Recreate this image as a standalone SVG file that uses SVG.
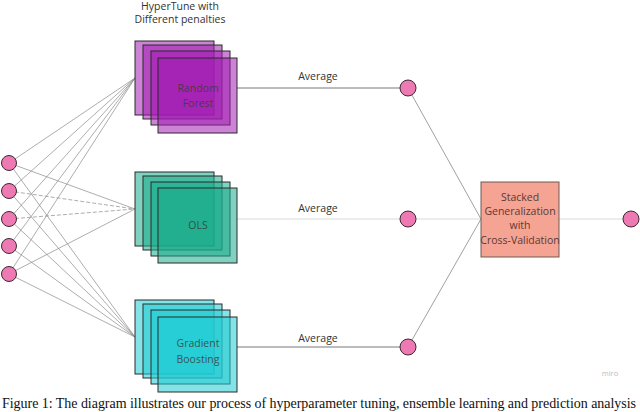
<svg xmlns="http://www.w3.org/2000/svg" width="640" height="412" viewBox="0 0 640 412">
<defs>
<style>
.lbl{font-family:"Open Sans","Noto Sans",sans-serif;font-size:10.5px;fill:#333;text-anchor:middle}
.in{font-family:"Open Sans","Noto Sans",sans-serif;font-size:10.5px;fill:#3a3a3a;fill-opacity:0.85;text-anchor:middle}
.c{stroke:#8a8a8a;stroke-width:0.7;fill:none}
.d{stroke-dasharray:4 2}
.dot{fill:#ee7ab4;stroke:#3d2b33;stroke-width:1}
.rf{fill:#a21cb3;fill-opacity:0.55;stroke:#2a2a2a;stroke-width:1}
.ols{fill:#17ab8a;fill-opacity:0.55;stroke:#2a2a2a;stroke-width:1}
.gb{fill:#1fccd3;fill-opacity:0.55;stroke:#2a2a2a;stroke-width:1}
</style>
</defs>
<rect width="640" height="412" fill="#ffffff"/>
<g id="connectors">
  <line class="c" x1="9" y1="163" x2="135" y2="78"/>
  <line class="c" x1="9" y1="191" x2="135" y2="78"/>
  <line class="c" x1="9" y1="219" x2="135" y2="78"/>
  <line class="c" x1="9" y1="246" x2="135" y2="78"/>
  <line class="c" x1="9" y1="274" x2="135" y2="78"/>
  <line class="c" x1="9" y1="163" x2="135" y2="209"/>
  <line class="c d" x1="9" y1="191" x2="135" y2="209"/>
  <line class="c d" x1="9" y1="219" x2="135" y2="209"/>
  <line class="c" x1="9" y1="274" x2="135" y2="209"/>
  <line class="c" x1="9" y1="163" x2="135" y2="337"/>
  <line class="c" x1="9" y1="191" x2="135" y2="337"/>
  <line class="c" x1="9" y1="219" x2="135" y2="337"/>
  <line class="c" x1="9" y1="246" x2="135" y2="337"/>
  <line class="c" x1="9" y1="274" x2="135" y2="337"/>
  <line stroke="#555" stroke-width="0.8" x1="237" y1="88" x2="408" y2="88"/>
  <line stroke="#d0d0d0" stroke-width="0.8" x1="237" y1="219" x2="408" y2="219"/>
  <line stroke="#555" stroke-width="0.8" x1="237" y1="347" x2="408" y2="347"/>
  <line stroke="#888" stroke-width="0.8" x1="408" y1="88" x2="481" y2="219"/>
  <line stroke="#d0d0d0" stroke-width="0.8" x1="408" y1="219" x2="481" y2="219"/>
  <line stroke="#888" stroke-width="0.8" x1="408" y1="347" x2="481" y2="219"/>
  <line stroke="#d0d0d0" stroke-width="0.8" x1="559" y1="219" x2="631" y2="219"/>
  <text class="lbl" x="318" y="80">Average</text>
  <text class="lbl" x="318" y="212">Average</text>
  <text class="lbl" x="318" y="342">Average</text>
</g>
<g id="inputs">
  <circle class="dot" cx="9" cy="163" r="7.5"/>
  <circle class="dot" cx="9" cy="191" r="7.5"/>
  <circle class="dot" cx="9" cy="219" r="7.5"/>
  <circle class="dot" cx="9" cy="246" r="7.5"/>
  <circle class="dot" cx="9" cy="274" r="7.5"/>
</g>
<g id="title">
  <text class="lbl" x="180" y="9.5">HyperTune with</text>
  <text class="lbl" x="180" y="23">Different penalties</text>
</g>
<g id="random-forest">
  <rect class="rf" x="135" y="41" width="79" height="74"/>
  <rect class="rf" x="143" y="45" width="79" height="74"/>
  <rect class="rf" x="151" y="51" width="79" height="74"/>
  <rect class="rf" x="158" y="58" width="79" height="75"/>
  <text class="in" x="198" y="92">Random</text>
  <text class="in" x="198" y="107">Forest</text>
</g>
<g id="ols">
  <rect class="ols" x="135" y="172" width="79" height="74"/>
  <rect class="ols" x="143" y="176" width="79" height="74"/>
  <rect class="ols" x="151" y="182" width="79" height="74"/>
  <rect class="ols" x="158" y="188" width="79" height="75"/>
  <text class="in" x="198" y="229">OLS</text>
</g>
<g id="gradient-boosting">
  <rect class="gb" x="135" y="300" width="79" height="74"/>
  <rect class="gb" x="143" y="304" width="79" height="74"/>
  <rect class="gb" x="151" y="310" width="79" height="74"/>
  <rect class="gb" x="158" y="317" width="79" height="75"/>
  <text class="in" x="198" y="347">Gradient</text>
  <text class="in" x="198" y="362.5">Boosting</text>
</g>
<g id="averages">
  <circle class="dot" cx="408" cy="88" r="8"/>
  <circle class="dot" cx="408" cy="219" r="8"/>
  <circle class="dot" cx="408" cy="347" r="8"/>
</g>
<g id="stacked">
  <rect x="481" y="182" width="78" height="75" fill="#f5a392" stroke="#6e5a56" stroke-width="1"/>
  <text class="lbl" x="520" y="200.5" style="fill:#5a3a36">Stacked</text>
  <text class="lbl" x="520" y="215" style="fill:#5a3a36">Generalization</text>
  <text class="lbl" x="520" y="229" style="fill:#5a3a36">with</text>
  <text class="lbl" x="520" y="243.5" style="fill:#5a3a36">Cross-Validation</text>
</g>
<g id="output">
  <circle class="dot" cx="631" cy="219" r="8"/>
</g>
<text x="610" y="376" font-family="'Open Sans',sans-serif" font-size="7.5" fill="#bbbbbb" text-anchor="middle">miro</text>
<text x="2" y="408" font-family="'Liberation Serif',serif" font-size="14" fill="#111" textLength="634" lengthAdjust="spacing">Figure 1: The diagram illustrates our process of hyperparameter tuning, ensemble learning and prediction analysis</text>
</svg>
